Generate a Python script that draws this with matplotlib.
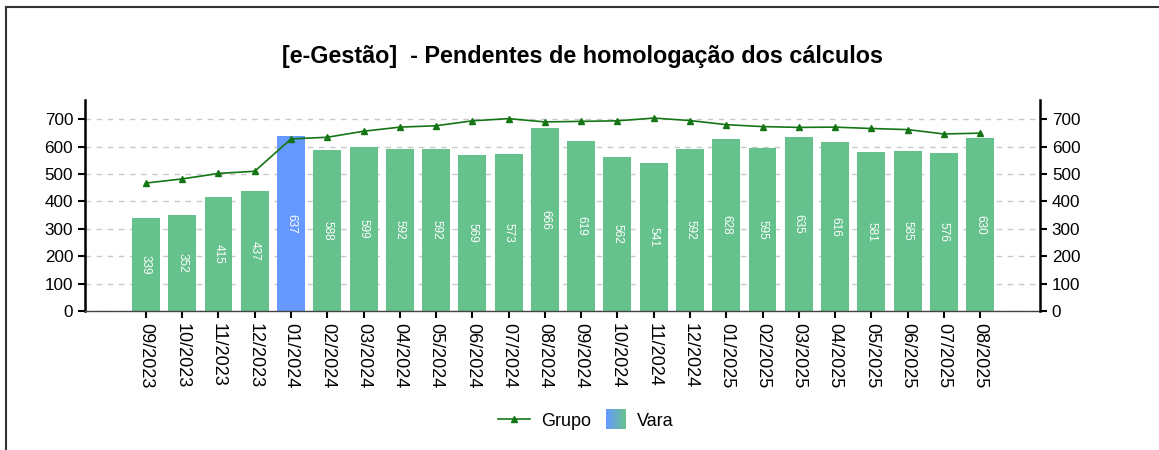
import matplotlib
matplotlib.use("Agg")
import matplotlib.pyplot as plt
from matplotlib.lines import Line2D
from matplotlib.patches import Patch, Rectangle
from matplotlib.legend_handler import HandlerBase
import matplotlib.colors as mcolors
import numpy as np

plt.rcParams['font.family'] = ['Liberation Sans', 'DejaVu Sans']

categories = ["09/2023", "10/2023", "11/2023", "12/2023", "01/2024", "02/2024", "03/2024",
              "04/2024", "05/2024", "06/2024", "07/2024", "08/2024", "09/2024", "10/2024",
              "11/2024", "12/2024", "01/2025", "02/2025", "03/2025", "04/2025", "05/2025",
              "06/2025", "07/2025", "08/2025"]
vara = [339, 352, 415, 437, 637, 588, 599, 592, 592, 569, 573, 666, 619, 562, 541, 592,
        628, 595, 635, 616, 581, 585, 576, 630]
grupo = [467, 482, 502, 510, 628, 634, 656, 671, 676, 694, 702, 690, 692, 694, 704, 695,
         680, 673, 670, 671, 666, 662, 646, 649]
highlight = "01/2024"
yticks = [0, 100, 200, 300, 400, 500, 600, 700]

green = "#66c28d"
blue = "#6699ff"
line_color = "#147514"


class GradientHandler(HandlerBase):
    def create_artists(self, legend, orig_handle, xdescent, ydescent, width, height,
                       fontsize, trans):
        side = height * 1.55
        x0 = -xdescent + width - side
        y0 = -ydescent + (height - side) / 2
        n = 20
        c1 = np.array(mcolors.to_rgb(blue))
        c2 = np.array(mcolors.to_rgb(green))
        arts = []
        for i in range(n):
            t = i / (n - 1)
            col = c1 * (1 - t) + c2 * t
            r = Rectangle((x0 + side * i / n, y0), side / n + 0.3, side,
                          facecolor=col, edgecolor='none', transform=trans)
            arts.append(r)
        return arts


fig = plt.figure(figsize=(11.59, 4.5), dpi=100)
ax = fig.add_axes([85/1159, 1 - 311/450, (1040 - 85)/1159, (311 - 100)/450])

x = np.arange(len(categories))
colors = [blue if c == highlight else green for c in categories]
bars = ax.bar(x, vara, width=0.77, color=colors, zorder=2)
for xi, v in zip(x, vara):
    ax.text(xi, v / 2, str(v), rotation=270, ha='center', va='center',
            color='white', fontsize=8.5, zorder=3)

ax.plot(x, grupo, color=line_color, lw=1.2, marker='^', markersize=4, zorder=4)

ax.set_xlim(-1.68, len(categories) - 1 + 1.65)
ax.set_ylim(0, 770)
ax.set_yticks(yticks)
ax.set_xticks(x)
ax.set_xticklabels(categories, rotation=270, fontsize=13)
ax.tick_params(axis='y', labelsize=12.3, length=5, width=1.5)
ax.tick_params(axis='x', length=5, width=1.5)
ax.grid(axis='y', linestyle=(0, (4, 4)), color='#c8c8c8', lw=1, zorder=0)
ax.spines['top'].set_visible(False)
ax.spines['right'].set_visible(False)
ax.spines['left'].set_linewidth(1.8)
ax.spines['bottom'].set_linewidth(1.0)
ax.spines['bottom'].set_color('#444444')
ax.spines['bottom'].set_linestyle((0, (3, 1)))

ax2 = ax.twinx()
ax2.set_ylim(ax.get_ylim())
ax2.set_yticks(yticks)
ax2.tick_params(axis='y', labelsize=12.3, length=5, width=1.5)
for s in ['top', 'left', 'bottom']:
    ax2.spines[s].set_visible(False)
ax2.spines['right'].set_linewidth(1.8)

fig.text(0.5 + 3/1159, 1 - 57/450, "[e-Gestão]  - Pendentes de homologação dos cálculos",
         ha='center', va='center', fontsize=16.8, fontweight='bold')

grad_handle = Patch(facecolor=green)
handles = [Line2D([0], [0], color=line_color, lw=1.2, marker='^', markersize=4),
           grad_handle]
fig.legend(handles, ["Grupo", "Vara"], loc='center',
           bbox_to_anchor=(0.5 + 6/1159, 1 - 421/450),
           ncol=2, frameon=False, fontsize=13, handlelength=1.8, columnspacing=0.1,
           handletextpad=0.6, handler_map={grad_handle: GradientHandler()})

fig.add_artist(Line2D([6/1159, 6/1159], [0, 1 - 7/450], transform=fig.transFigure,
                      color='#333333', lw=1.5))
fig.add_artist(Line2D([6/1159, 1], [1 - 7/450, 1 - 7/450], transform=fig.transFigure,
                      color='#333333', lw=1.5))

fig.savefig("out.png", dpi=100)
